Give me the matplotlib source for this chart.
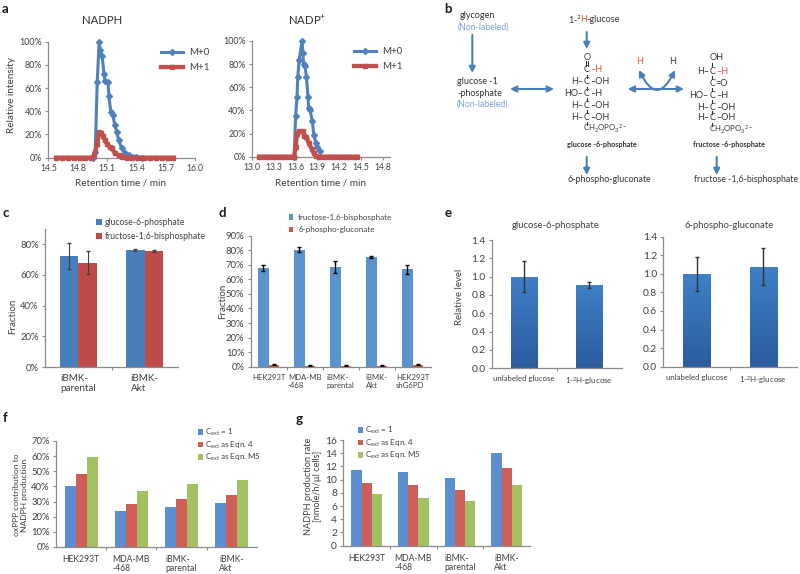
import matplotlib
matplotlib.use("Agg")
import matplotlib.pyplot as plt
import numpy as np
from matplotlib.patches import FancyArrowPatch

plt.rcParams['font.family'] = ['Lato', 'DejaVu Sans']
plt.rcParams['mathtext.default'] = 'regular'

W, H = 800, 574
BLUE, RED, GREEN = '#4f81bd', '#c0504d', '#9bbb59'
AX = '#8c8c8c'; TXT = '#404040'

# ---------- data ----------
nadph_x0 = [14.96, 14.98, 15.0, 15.02, 15.03, 15.05, 15.07, 15.08, 15.11, 15.12, 15.14, 15.16, 15.18, 15.2, 15.22, 15.25, 15.28, 15.33, 15.4, 15.46]
nadph_y0 = [0, 5, 65, 100, 93, 88, 72, 66, 65, 53, 39, 37, 28, 22, 15, 8, 4, 2, 1, 0]
nadph_x1 = [14.58, 14.64, 14.7, 14.76, 14.82, 14.88, 14.94, 14.97, 15.0, 15.02, 15.04, 15.06, 15.08, 15.1, 15.13, 15.15, 15.18, 15.22, 15.25, 15.3, 15.36, 15.42, 15.48, 15.54, 15.6, 15.66, 15.72, 15.78]
nadph_y1 = [0, 0, 0, 0, 0, 0, 0, 2, 12, 22, 21, 19, 15, 12, 9, 8, 4, 2, 1, 0, 0, 0, 0, 0, 0, 0, 0, 0]
nadp_x0 = [13.58, 13.6, 13.62, 13.63, 13.65, 13.69, 13.7, 13.71, 13.73, 13.75, 13.77, 13.78, 13.8, 13.83, 13.85, 13.88, 13.9, 13.93]
nadp_y0 = [0, 35, 52, 69, 84, 100, 90, 80, 78, 69, 52, 42, 40, 31, 19, 12, 8, 5]
nadp_x1 = [13.1, 13.16, 13.22, 13.28, 13.34, 13.4, 13.46, 13.52, 13.58, 13.6, 13.62, 13.65, 13.7, 13.72, 13.75, 13.78, 13.82, 13.85, 13.88, 13.92, 13.98, 14.04, 14.1, 14.16, 14.22, 14.28, 14.34, 14.4, 14.45]
nadp_y1 = [0, 0, 0, 0, 0, 0, 0, 0, 0, 8, 20, 22, 22, 18, 17, 12, 7, 3, 0.5, 0, 0, 0, 0, 0, 0, 0, 0, 0, 0]
a_left_ticks = [14.5, 14.8, 15.1, 15.4, 15.7, 16.0]
a_right_ticks = [13.0, 13.3, 13.6, 13.9, 14.2, 14.5, 14.8]
a_pct_ticks = [0, 20, 40, 60, 80, 100]

c_cats = ['iBMK-\nparental', 'iBMK-\nAkt']
c_g6p = [72.4, 75.9]; c_g6p_err = [8.5, 0.7]
c_fbp = [67.9, 75.5]; c_fbp_err = [7.4, 0.5]

d_cats = ['HEK293T', 'MDA-MB\n-468', 'iBMK-\nparental', 'iBMK-\nAkt', 'HEK293T\nshG6PD']
d_fbp = [68, 80.5, 68.5, 75.5, 67]; d_fbp_err = [2, 2, 4, 0.5, 3]
d_6pg = [1.5, 0.8, 0.8, 0.8, 1.5]; d_6pg_err = [0.5, 0.3, 0.3, 0.3, 0.4]

e_cats = ['unlabeled glucose', '1-$^{2}$H-glucose']
e_g6p = [1.0, 0.91]; e_g6p_err = [0.17, 0.03]
e_6pg = [1.0, 1.075]; e_6pg_err = [0.185, 0.2]

fg_cats = ['HEK293T', 'MDA-MB\n-468', 'iBMK-\nparental', 'iBMK-\nAkt']
f_a = [40, 24, 26.5, 29]; f_b = [48.5, 28.5, 32, 34.5]; f_c = [59.5, 37, 41.5, 44]
g_a = [11.5, 11.1, 10.3, 14.1]; g_b = [9.5, 9.2, 8.5, 11.7]; g_c = [7.8, 7.2, 6.7, 9.2]
cext = ['C$_{ext}$ = 1', 'C$_{ext}$ as Eqn. 4', 'C$_{ext}$ as Eqn. M5']

fig = plt.figure(figsize=(W / 100, H / 100), dpi=100, facecolor='white')


def mkax(x0, x1, ybot, ytop):
    ax = fig.add_axes([x0 / W, 1 - ybot / H, (x1 - x0) / W, (ybot - ytop) / H])
    ax.patch.set_alpha(0)
    for s in ('top', 'right'):
        ax.spines[s].set_visible(False)
    for s in ('left', 'bottom'):
        ax.spines[s].set_color(AX)
        ax.spines[s].set_linewidth(0.9)
    ax.tick_params(axis='both', which='both', color=AX, length=2.5, width=0.8,
                   labelcolor=TXT, labelsize=6.4, pad=2)
    return ax


def cat_axis(ax, labels, fs=6.2, pad=4, ls=1.1):
    n = len(labels)
    ax.set_xlim(-0.5, n - 0.5)
    ax.set_xticks(range(n))
    ax.set_xticklabels(labels, fontsize=fs, multialignment='left', linespacing=ls)
    ax.tick_params(axis='x', which='major', length=0, pad=pad)
    ax.set_xticks(np.arange(0.5, n - 0.5, 1), minor=True)


def px_legend(handles, labels, x, y, spacing, fs=6.4, hl=0.8, htp=0.6):
    return fig.legend(handles, labels, loc='upper left', bbox_to_anchor=(x / W, 1 - y / H),
                      bbox_transform=fig.transFigure, frameon=False, borderpad=0,
                      borderaxespad=0, labelspacing=spacing, fontsize=fs, handlelength=hl,
                      handletextpad=htp, labelcolor=TXT)


# ---------- panel a ----------
def chrom(rect, xlim, ticks, x0, y0, x1, y1, title, tx, ylab, legx, legy):
    ax = mkax(*rect)
    ax.set_xlim(*xlim); ax.set_ylim(0, 100)
    l0, = ax.plot(x0, y0, color=BLUE, lw=2.2, marker='D', ms=3, clip_on=False, zorder=3)
    l1, = ax.plot(x1, y1, color=RED, lw=3.1, marker='s', ms=3.4, clip_on=False, zorder=4)
    ax.set_xticks(ticks); ax.set_xticklabels([f'{t:.1f}' for t in ticks], fontsize=6.2)
    ax.set_yticks(a_pct_ticks); ax.set_yticklabels([f'{t}%' for t in a_pct_ticks])
    fig.text(tx / W, 1 - 20 / H, title, ha='center', va='center', fontsize=8.2, color='#303030')
    fig.text((tx + 18.5 if ylab else tx + 13.5) / W, 1 - 183 / H, 'Retention time / min', ha='center', va='center',
             fontsize=7.2, color=TXT)
    if ylab:
        fig.text(12 / W, 1 - 95 / H, 'Relative intensity', rotation=90, ha='center',
                 va='center', fontsize=7.2, color=TXT)
    px_legend([l0, l1], ['M+0', 'M+1'], legx, legy, 0.64, fs=7, hl=2.3, htp=0.55)


chrom((48.3, 195, 157.7, 41.7), (14.5, 16.0), a_left_ticks, nadph_x0, nadph_y0, nadph_x1, nadph_y1,
      'NADPH', 101.7, True, 161, 48)
chrom((252, 390, 156.7, 41), (13.0, 14.9), a_right_ticks, nadp_x0, nadp_y0, nadp_x1, nadp_y1,
      'NADP$^{+}$', 306.7, False, 354, 47)

# ---------- panel c ----------
ax = mkax(45, 178, 367.3, 228.6)
xs = np.arange(len(c_cats))
ax.bar(xs - 0.14, c_g6p, 0.28, color='#4a7ebb', yerr=c_g6p_err, ecolor='#404040',
       error_kw=dict(lw=0.8, capsize=1.2), label='glucose-6-phosphate')
ax.bar(xs + 0.14, c_fbp, 0.28, color='#be4b48', yerr=c_fbp_err, ecolor='#404040',
       error_kw=dict(lw=0.8, capsize=1.2), label='fructose-1,6-bisphosphate')
cat_axis(ax, c_cats, fs=7.1, pad=5, ls=1.15)
ax.set_ylim(0, 90)
ax.set_yticks([0, 20, 40, 60, 80]); ax.set_yticklabels(['0%', '20%', '40%', '60%', '80%'], fontsize=6.8)
ax.set_ylabel('Fraction', fontsize=7, color=TXT, labelpad=3)
ax.yaxis.set_label_coords((17 - 45) / 133, 0.37)
h, l = ax.get_legend_handles_labels()
px_legend(h, l, 96, 218, 0.57, fs=6.2, hl=0.7, htp=0.35)

# ---------- panel d ----------
ax = mkax(250.7, 430.7, 366.7, 235.7)
xs = np.arange(len(d_cats))
ax.bar(xs - 0.15, d_fbp, 0.3, color='#5b93cf', yerr=d_fbp_err, ecolor='black',
       error_kw=dict(lw=1, capsize=1.5), label='fructose-1,6-bisphosphate')
ax.bar(xs + 0.15, d_6pg, 0.3, color='#d0504d', yerr=d_6pg_err, ecolor='black',
       error_kw=dict(lw=1, capsize=1.5), label='6-phospho-gluconate')
cat_axis(ax, d_cats, fs=5.6, pad=5, ls=1.25)
ax.set_ylim(0, 90)
ax.set_yticks(range(0, 91, 10)); ax.set_yticklabels([f'{v}%' for v in range(0, 91, 10)], fontsize=6.8)
ax.yaxis.set_label_coords((227.5 - 250.7) / 180, 0.44)
ax.set_ylabel('Fraction', fontsize=7, color=TXT)
h, l = ax.get_legend_handles_labels()
px_legend(h, l, 288.5, 213.5, 0.72, fs=5.8, hl=0.6, htp=0.6)


# ---------- panel e ----------
def grad_panel(rect, vals, errs, title, tx, ylab=False):
    ax = mkax(*rect)
    xs = np.arange(len(vals))
    bars = ax.bar(xs, vals, 0.41, color='#3a72b5', yerr=errs, ecolor='#333333',
                  error_kw=dict(lw=1, capsize=1.3, zorder=5))
    grad = np.linspace(0, 1, 64).reshape(-1, 1)
    cm = matplotlib.colors.LinearSegmentedColormap.from_list('g', ['#3f80c6', '#2b5c9e'])
    for b in bars:
        im = ax.imshow(grad, cmap=cm, aspect='auto', zorder=2,
                       extent=(b.get_x(), b.get_x() + b.get_width(), 0, b.get_height()))
        im.set_clip_path(b)
    cat_axis(ax, e_cats, fs=5.7, pad=5)
    ax.set_ylim(0, 1.4)
    ticks = [0, 0.2, 0.4, 0.6, 0.8, 1.0, 1.2, 1.4]
    ax.set_yticks(ticks); ax.set_yticklabels([f'{t:.1f}' for t in ticks], fontsize=7.4)
    fig.text(tx / W, 1 - 226 / H, title, ha='center', va='center', fontsize=6.8, color=TXT)
    if ylab:
        fig.text(459 / W, 1 - 297 / H, 'Relative level', rotation=90, ha='center', va='center',
                 fontsize=6.9, color=TXT)


grad_panel((491.7, 621.7, 368.3, 240), e_g6p, e_g6p_err, 'glucose-6-phosphate', 556, True)
grad_panel((663.3, 796.7, 366.7, 236.7), e_6pg, e_6pg_err, '6-phospho-gluconate', 729)


# ---------- panels f, g ----------
def triple(rect, a, b, c, ymax, ticks, tlabels, tfs, ylabel, lab_x, lab_y, lab_fs, legx, legy, ls):
    ax = mkax(*rect)
    xs = np.arange(len(fg_cats))
    w = 0.22
    h1 = ax.bar(xs - w, a, w, color='#5b8fd0')
    h2 = ax.bar(xs, b, w, color='#cd5f58')
    h3 = ax.bar(xs + w, c, w, color='#a3c163')
    cat_axis(ax, fg_cats, fs=6.2, pad=6, ls=ls)
    ax.set_ylim(0, ymax)
    ax.set_yticks(ticks); ax.set_yticklabels(tlabels, fontsize=tfs)
    fig.text(lab_x / W, 1 - lab_y / H, ylabel, rotation=90, ha='center', va='center',
             fontsize=lab_fs, color=TXT, linespacing=1.1, multialignment='center')
    px_legend([h1, h2, h3], cext, legx, legy, 0.14, fs=5.8, hl=0.6, htp=0.25)


triple((56, 256.7, 547, 441), f_a, f_b, f_c, 70, range(0, 71, 10), [f'{v}%' for v in range(0, 71, 10)], 6.8,
       'oxPPP contribution to\nNADPH production', 20.5, 495, 6.1, 198, 427, 0.95)
triple((343.3, 530, 545.7, 440), g_a, g_b, g_c, 16, range(0, 17, 2), [str(v) for v in range(0, 17, 2)], 7.4,
       'NADPH production rate\n[nmole/h/µl cells]', 313, 486, 6.6, 358, 425, 1.05)

# ---------- overlay: panel letters and pathway diagram ----------
ov = fig.add_axes([0, 0, 1, 1], zorder=10)
ov.set_xlim(0, W); ov.set_ylim(H, 0); ov.axis('off'); ov.patch.set_alpha(0)

for s, x, y in [('a', 5, 9), ('b', 448, 9), ('c', 6, 213), ('d', 222, 213), ('e', 448, 213), ('f', 5, 418), ('g', 299, 419)]:
    ov.text(x, y, s, fontsize=9.5, fontweight='bold', ha='center', va='center', color='#1a1a1a')

DK = '#333333'; HRED = '#e0533c'; LBL = '#7f9fd6'; ARW = '#4a7ebb'


def t(x, y, s, c=DK, ha='left', fs=6.5, **kw):
    return ov.text(x, y, s, color=c, ha=ha, va='center', fontsize=fs, **kw)


def arrow(x0, y0, x1, y1, style='-|>', rad=0.0):
    ov.add_patch(FancyArrowPatch((x0, y0), (x1, y1), arrowstyle=style, mutation_scale=9, color=ARW, lw=1.5,
                                 connectionstyle=f'arc3,rad={rad}', shrinkA=0, shrinkB=0))


t(459.3, 15.7, 'glycogen'); t(457.7, 27, '(Non-labeled)', LBL, fs=6.2)
arrow(472.3, 35, 472.3, 73)
t(457, 82, 'glucose -1'); t(457, 93, '-phosphate'); t(457, 104, '(Non-labeled)', LBL, fs=6.2)
arrow(510, 89, 554, 89, '<|-|>')

# 1-2H-glucose, pieces laid end to end so the red H keeps its colour
t(567.7, 20, '1-$^{2}$')
t(580.2, 20, 'H', HRED)
t(586.4, 20, '-glucose')
arrow(586.7, 32, 586.7, 49)


def row(cx, y, left='', right='', center='C', rc=DK):
    if left:
        t(cx - 3.5, y, left, ha='right')
    t(cx, y, center, ha='center')
    if right:
        t(cx + 3.5, y, right, c=rc)


def bond(cx, y0, y1):
    ov.plot([cx, cx], [y0, y1], color=DK, lw=0.8)


cx = 586.7
t(cx, 57, 'O', ha='center')
ov.plot([cx - 0.8, cx - 0.8], [61, 66], color=DK, lw=0.7); ov.plot([cx + 0.8, cx + 0.8], [61, 66], color=DK, lw=0.7)
row(cx, 70, right='–H', rc=HRED)
row(cx, 82, 'H–', '–OH'); row(cx, 93, 'HO–', '–H'); row(cx, 105, 'H–', '–OH'); row(cx, 117, 'H–', '–OH')
for y in (76, 88, 99, 111, 123):
    bond(cx, y - 1.5, y + 1.5)
t(583, 129, 'CH$_{2}$OPO$_{3}$$^{2-}$', fs=5.6)
t(601.7, 144, 'glucose -6-phosphate', ha='center', fs=5.2, fontweight='bold')
arrow(586.7, 157, 586.7, 175)
t(567.7, 180, '6-phospho-gluconate', fs=6.4)

arrow(627.7, 89, 684, 89, '<|-|>')
arrow(639, 70, 675, 70, '<|-|>', rad=1.05)
t(639.3, 62, 'H', HRED, ha='center'); t(672.3, 62, 'H', ha='center')

fx = 712.3
t(fx + 4, 58, 'OH', ha='center')
row(fx, 71, 'H–', '–H', rc=HRED); row(fx, 83, right='=O'); row(fx, 95, 'HO–', '–H')
row(fx, 107, 'H–', '–OH'); row(fx, 118, 'H–', '–OH')
for y in (64.5, 77, 89, 101, 112.5, 124):
    bond(fx, y - 1.5, y + 1.5)
t(709, 130, 'CH$_{2}$OPO$_{3}$$^{2-}$', fs=5.6)
t(729, 144, 'fructose -6-phosphate', ha='center', fs=5.2, fontweight='bold')
arrow(716.7, 157, 716.7, 175)
t(694, 180, 'fructose -1,6-bisphosphate', fs=6.3)

fig.savefig('out.png', dpi=100)
